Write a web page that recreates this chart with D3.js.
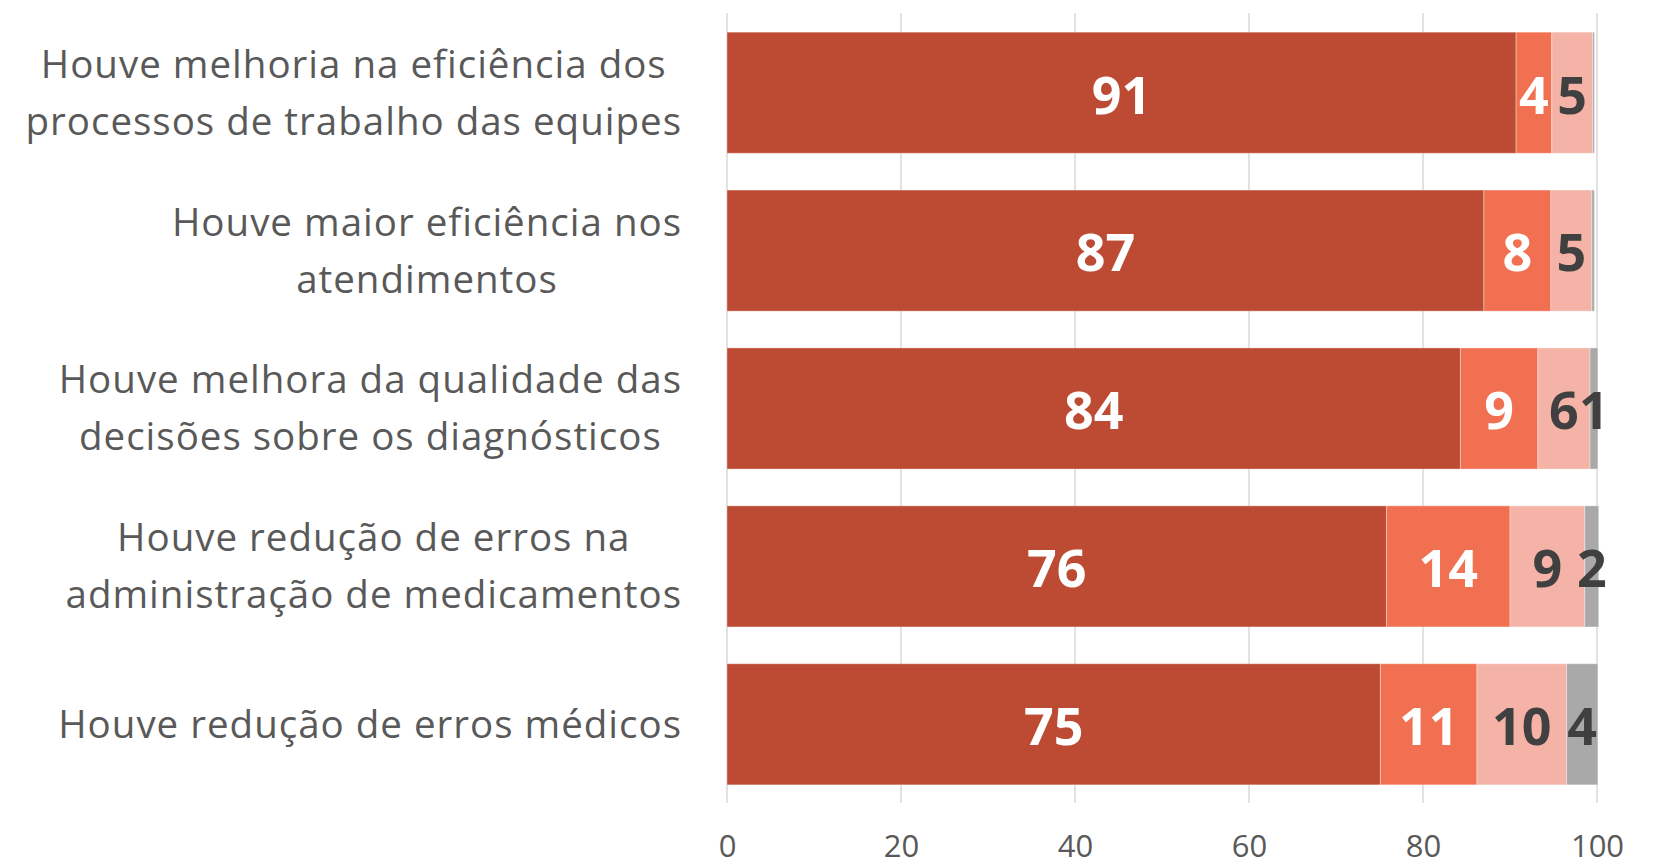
<!DOCTYPE html>
<html>
<head>
<meta charset="utf-8">
<script src="https://cdn.jsdelivr.net/npm/d3@7"></script>
<style>
  body { margin: 0; background: #fff; }
  svg text { font-family: "Segoe UI", "Open Sans", "Noto Sans", sans-serif; }
</style>
</head>
<body>
<script>
// data
var categories = [
  "Houve melhoria na eficiência dos\nprocessos de trabalho das equipes",
  "Houve maior eficiência nos\natendimentos",
  "Houve melhora da qualidade das\ndecisões sobre os diagnósticos",
  "Houve redução de erros na\nadministração de medicamentos",
  "Houve redução de erros médicos"
];
var serie1 = [90.7, 87.0, 84.3, 75.8, 75.1];
var serie2 = [4.1, 7.7, 8.9, 14.2, 11.1];
var serie3 = [4.7, 4.7, 6.0, 8.6, 10.3];
var serie4 = [0.2, 0.3, 0.9, 1.6, 3.6];
var xTicks = [0, 20, 40, 60, 80, 100];

var keys = ["s1", "s2", "s3", "s4"];
var colors = ["#BD4B33", "#F27052", "#F4B3A6", "#A9A9A9"];
var labelColors = ["#ffffff", "#ffffff", "#404040", "#404040"];

var data = categories.map(function(c, i) {
  return {cat: c, s1: serie1[i], s2: serie2[i], s3: serie3[i], s4: serie4[i]};
});

var width = 1658, height = 866;

var svg = d3.select("body").append("svg")
    .attr("width", width)
    .attr("height", height);

var x = d3.scaleLinear()
    .domain([0, 100])
    .range([727, 1597]);

var y = d3.scaleBand()
    .domain(categories)
    .range([14, 803])
    .paddingInner(0.233)
    .paddingOuter(0.115);

// gridlines
svg.append("g")
    .selectAll("line")
    .data(xTicks)
    .enter().append("line")
    .attr("x1", function(d) { return x(d); })
    .attr("x2", function(d) { return x(d); })
    .attr("y1", 13)
    .attr("y2", 803)
    .attr("stroke", "#e2e2e2")
    .attr("stroke-width", 2);

// x axis labels
var xAxis = svg.append("g")
    .attr("transform", "translate(0,803)")
    .call(d3.axisBottom(x).tickValues(xTicks).tickSize(0).tickFormat(d3.format("d")));
xAxis.select(".domain").remove();
xAxis.selectAll("text")
    .attr("y", 43)
    .attr("dy", "0.35em")
    .attr("fill", "#595959")
    .style("font-size", "31px");

var stacked = d3.stack().keys(keys)(data);

var groups = svg.append("g")
    .selectAll("g")
    .data(stacked)
    .enter().append("g")
    .attr("fill", function(d, i) { return colors[i]; });

groups.selectAll("rect")
    .data(function(d) { return d; })
    .enter().append("rect")
    .attr("x", function(d) { return x(d[0]); })
    .attr("y", function(d) { return y(d.data.cat); })
    .attr("width", function(d) { return x(d[1]) - x(d[0]); })
    .attr("height", y.bandwidth())
    .attr("stroke", "#ffffff")
    .attr("stroke-opacity", 0.35)
    .attr("stroke-width", 1);

// value labels
groups.each(function(s, i) {
  d3.select(this).selectAll("text")
    .data(s.filter(function(d) { return d[1] - d[0] >= 0.5; }))
    .enter().append("text")
    .attr("x", function(d) { return x((d[0] + d[1]) / 2); })
    .attr("y", function(d) { return y(d.data.cat) + y.bandwidth() / 2; })
    .attr("dy", "0.4em")
    .attr("text-anchor", "middle")
    .attr("fill", labelColors[i])
    .style("font-size", "52px")
    .style("font-weight", "bold")
    .text(function(d) { return d3.format(".0f")(d[1] - d[0]); });
});

// category labels: block right aligned, lines centred inside the block
var labelRight = 682, lineH = 57;
categories.forEach(function(c) {
  var lines = c.split("\n");
  var g = svg.append("g");
  var texts = g.selectAll("text")
    .data(lines)
    .enter().append("text")
    .attr("text-anchor", "middle")
    .attr("fill", "#595959")
    .style("font-size", "38.5px")
    .style("letter-spacing", "1px")
    .attr("dy", "0.35em")
    .text(function(d) { return d; });
  var maxW = 0;
  texts.each(function() { maxW = Math.max(maxW, this.getComputedTextLength()); });
  var cy = y(c) + y.bandwidth() / 2;
  texts
    .attr("x", labelRight - maxW / 2)
    .attr("y", function(d, i) { return cy + (i - (lines.length - 1) / 2) * lineH; });
});
</script>
</body>
</html>
